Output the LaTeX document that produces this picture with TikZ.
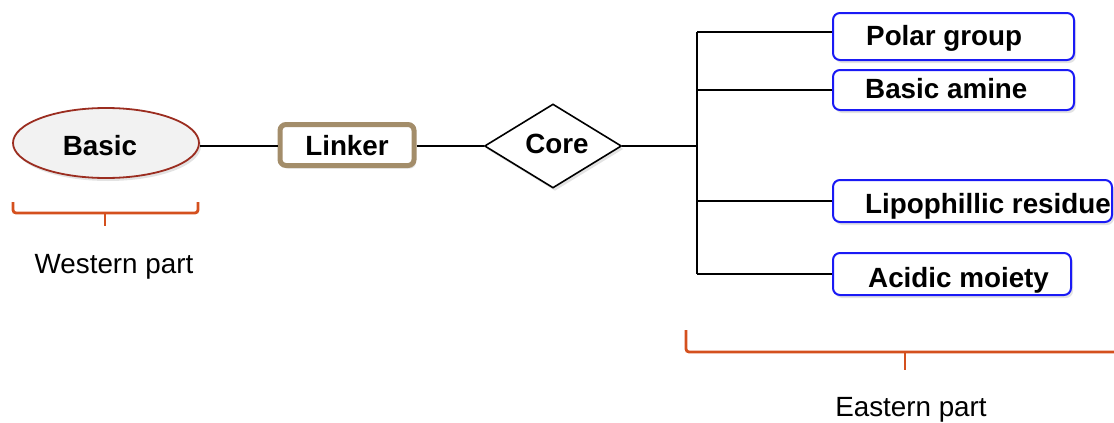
\documentclass[tikz,border=0pt]{standalone}
\usepackage{fontspec}
\setmainfont{Liberation Sans}
\usetikzlibrary{shapes.geometric,shadows}
\definecolor{ellborder}{HTML}{9B2D20}
\definecolor{ellfill}{HTML}{F2F2F2}
\definecolor{linkborder}{HTML}{A38D6A}
\definecolor{boxblue}{HTML}{1A1AF5}
\definecolor{braceor}{HTML}{D4501E}
\tikzset{
  shade/.style={drop shadow={opacity=0.22,shadow xshift=2pt,shadow yshift=-3pt}},
  lbl/.style={font=\fontsize{27.8}{30}\selectfont\bfseries, inner sep=0pt},
  plain/.style={font=\fontsize{27.8}{30}\selectfont, inner sep=0pt},
  conn/.style={line width=2.4pt, black},
  branch/.style={line width=2pt, black},
  bluebox/.style={draw=boxblue, line width=2pt, rounded corners=7pt, fill=white, shade, inner sep=0pt},
  bracepath/.style={draw=braceor, line width=2.8pt, rounded corners=3pt},
}
\begin{document}
\begin{tikzpicture}[x=1pt,y=-1pt]
\useasboundingbox (0,0) rectangle (1114,423);
% western chain
\node[ellipse, draw=ellborder, fill=ellfill, line width=1.8pt, minimum width=186pt, minimum height=70pt, inner sep=0pt, shade] (basic) at (106,143) {};
\node[lbl, anchor=base] (basict) at (100,155) {Basic};
\node[draw=linkborder, line width=5pt, rounded corners=6pt, fill=white, minimum width=134pt, minimum height=41pt, inner sep=0pt, shade] (linker) at (347,145) {};
\node[lbl, anchor=base] (linkert) at (347,155) {Linker};
\node[diamond, draw=black, line width=1.6pt, fill=white, minimum width=137pt, minimum height=84pt, aspect=1.63, inner sep=0pt, shade] (core) at (553,146) {};
\node[lbl, anchor=base] (coret) at (557,153) {Core};
\draw[conn] (basic.east |- 0,146) coordinate (e1) -- (linker.west |- e1);
\draw[conn] (linker.east |- 0,146) coordinate (e2) -- (core.west);
% bus
\coordinate (bus) at (697,146);
\coordinate (bustop) at (697,32);
\coordinate (busbot) at (697,274);
\draw[conn] (core.east) -- (bus);
\draw[line width=2.8pt] (bustop) -- (busbot);
% eastern boxes
\node[bluebox, minimum width=241pt, minimum height=47pt] (polar) at (953.5,36.5) {};
\node[lbl, anchor=base west] (polart) at (866,45) {Polar group};
\node[bluebox, minimum width=241pt, minimum height=40pt] (amine) at (953.5,90) {};
\node[lbl, anchor=base west] (aminet) at (865,98) {Basic amine};
\node[bluebox, minimum width=279pt, minimum height=42pt] (lipo) at (972.5,201) {};
\node[lbl, anchor=base west] (lipot) at (865,213) {Lipophillic residue};
\node[bluebox, minimum width=238pt, minimum height=42pt] (acid) at (952,274) {};
\node[lbl, anchor=base west] (acidt) at (868,287) {Acidic moiety};
\coordinate (b1) at (697,32);
\coordinate (b2) at (697,90);
\coordinate (b3) at (697,201);
\coordinate (b4) at (697,274);
\draw[branch] (b1) -- (b1 -| polar.west);
\draw[branch] (b2) -- (b2 -| amine.west);
\draw[branch] (b3) -- (b3 -| lipo.west);
\draw[branch] (b4) -- (b4 -| acid.west);
% braces
\draw[bracepath] (13,202) -- (13,213) -- (198,213) -- (198,202);
\draw[draw=braceor, line width=2.8pt] (105,213) -- (105,226);
\draw[bracepath] (686,330) -- (686,352) -- (1125,352);
\draw[draw=braceor, line width=2.8pt] (905,352) -- (905,370);
\node[plain, anchor=base] (west) at (114,273) {Western part};
\node[plain, anchor=base] (east) at (911,416) {Eastern part};
\end{tikzpicture}
\end{document}
